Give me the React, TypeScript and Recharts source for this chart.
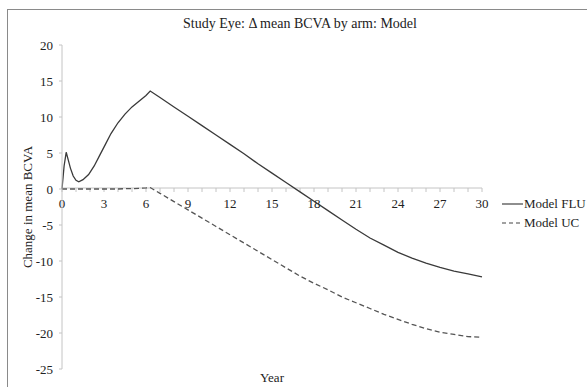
import { LineChart, Line, XAxis, YAxis } from "recharts"

const years = [
  0, 0.15, 0.3, 0.45, 0.6, 0.8, 1, 1.2, 1.5, 1.9, 2.3, 2.7, 3.1, 3.5, 4, 4.5, 5, 5.5, 6, 6.3,
  7, 8, 9, 10, 11, 12, 13, 14, 15, 16, 17, 18, 19, 20, 21, 22, 23, 24, 25, 26, 27, 28, 29, 30,
]

const modelFlu = [
  0, 3.2, 5.1, 4.0, 2.9, 1.8, 1.2, 1.0, 1.3, 2.0, 3.2, 4.7, 6.2, 7.7, 9.2, 10.4, 11.4, 12.2, 13.0, 13.6,
  12.7, 11.4, 10.1, 8.8, 7.5, 6.2, 4.9, 3.5, 2.2, 0.9, -0.4, -1.7, -3.0, -4.3, -5.6, -6.8, -7.8, -8.8, -9.6,
  -10.3, -10.9, -11.4, -11.8, -12.2,
]

const modelUc = [
  0, 0, 0, 0, 0, 0, 0, 0, 0, 0, 0, 0, 0, 0, 0, 0.05, 0.05, 0.1, 0.15, 0.2,
  -0.6, -1.75, -2.9, -4.05, -5.2, -6.35, -7.5, -8.65, -9.8, -10.95, -12.1, -13.1, -14.0, -15.0, -15.8,
  -16.6, -17.4, -18.1, -18.8, -19.4, -19.9, -20.2, -20.5, -20.6,
]

const yearTicks = Array.from({ length: 31 }, (_, i) => i)
const valueTicks = [-25, -20, -15, -10, -5, 0, 5, 10, 15, 20]

const rows = years.map((year, i) => ({ year, flu: modelFlu[i], uc: modelUc[i] }))

const FONT = "'Liberation Serif', 'Times New Roman', serif"
const AXIS = "#c4c4c4"
const TEXT = "#222"

const legendItems = [
  { name: "Model FLU", dash: undefined },
  { name: "Model UC", dash: "4 3" },
]

function LegendBox() {
  return (
    <div style={{ fontFamily: FONT, fontSize: 13, color: TEXT }}>
      {legendItems.map((item) => (
        <div key={item.name} style={{ display: "flex", alignItems: "center", height: 19 }}>
          <svg width={21} height={10} style={{ marginRight: 1 }}>
            <line x1={0} x2={21} y1={5} y2={5} stroke="#444" strokeWidth={1.2} strokeDasharray={item.dash} />
          </svg>
          <span>{item.name}</span>
        </div>
      ))}
    </div>
  )
}

export default function App() {
  return (
    <div style={{ position: "fixed", left: 0, top: 0, width: 587, height: 387, overflow: "hidden", background: "#fff" }}>
      <div
        style={{
          position: "absolute",
          left: 7,
          top: 9,
          width: 620,
          height: 420,
          border: "1px solid #8a8a8a",
        }}
      />
      <div
        style={{
          position: "absolute",
          left: 0,
          width: 600,
          top: 16,
          textAlign: "center",
          fontFamily: FONT,
          fontSize: 14,
          color: TEXT,
        }}
      >
        Study Eye: Δ mean BCVA by arm: Model
      </div>

      {/* x axis drawn at the zero line */}
      <div style={{ position: "absolute", left: 0, top: 0 }}>
        <LineChart width={587} height={212} data={rows} margin={{ top: 45, right: 105, left: 62, bottom: 0 }}>
          <YAxis hide domain={[0, 20]} />
          <XAxis
            dataKey="year"
            type="number"
            domain={[0, 30]}
            ticks={yearTicks}
            interval={0}
            tickFormatter={(v: number) => (v % 3 === 0 ? `${v}` : "")}
            height={24}
            stroke={AXIS}
            tickSize={4}
            tickMargin={7}
            tick={{ fill: TEXT, fontSize: 13, fontFamily: FONT }}
          />
        </LineChart>
      </div>

      <div style={{ position: "absolute", left: 0, top: 0 }}>
        <LineChart width={587} height={387} data={rows} margin={{ top: 45, right: 105, left: 0, bottom: 0 }}>
          <XAxis
            dataKey="year"
            type="number"
            domain={[0, 30]}
            ticks={yearTicks}
            tick={false}
            axisLine={false}
            tickLine={false}
            height={18}
            label={{
              value: "Year",
              position: "insideBottom",
              offset: 5,
              style: { fill: TEXT, fontSize: 13, fontFamily: FONT },
            }}
          />
          <YAxis
            type="number"
            domain={[-25, 20]}
            ticks={valueTicks}
            width={62}
            stroke={AXIS}
            tickSize={3}
            tickMargin={6}
            tick={{ fill: TEXT, fontSize: 13, fontFamily: FONT }}
            label={{
              value: "Change in mean BCVA",
              angle: -90,
              position: "insideLeft",
              offset: 27,
              style: { textAnchor: "middle", fill: TEXT, fontSize: 13, fontFamily: FONT },
            }}
          />
          <Line
            type="linear"
            dataKey="flu"
            name="Model FLU"
            stroke="#3a3a3a"
            strokeWidth={1.3}
            dot={false}
            isAnimationActive={false}
          />
          <Line
            type="linear"
            dataKey="uc"
            name="Model UC"
            stroke="#555"
            strokeWidth={1.3}
            strokeDasharray="5 3"
            dot={false}
            isAnimationActive={false}
          />
        </LineChart>
      </div>

      <div style={{ position: "absolute", left: 502, top: 194 }}>
        <LegendBox />
      </div>
    </div>
  )
}
